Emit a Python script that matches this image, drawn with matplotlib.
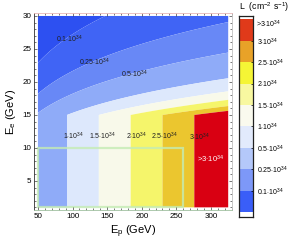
import numpy as np
import matplotlib
matplotlib.use("Agg")
import matplotlib.pyplot as plt
from matplotlib.patches import Rectangle

plt.rcParams["font.family"] = ["Liberation Sans", "DejaVu Sans"]
plt.rcParams["mathtext.fontset"] = "custom"
plt.rcParams["mathtext.rm"] = "Liberation Sans"
plt.rcParams["mathtext.it"] = "Liberation Sans:italic"

# luminosity levels (10^34 cm^-2 s^-1) and colours
levels = [0, 0.1, 0.25, 0.5, 1.0, 1.5, 2.0, 2.5, 3.0, 10.0]
plot_colors = ["#2d50f1", "#4064f5", "#6888f6", "#8fabf8", "#dde8fc",
               "#f8f9ea", "#f5f56b", "#ebc62f", "#d90012"]
bar_colors = ["#3a5ef8", "#7d98f8", "#b4c8fa", "#e2eafc", "#fafaee",
              "#f8f8a0", "#f5f535", "#e8a228", "#e03a1a"]
bar_labels = ["0.1", "0.25", "0.5", "1", "1.5", "2", "2.5", "3"]

# luminosity model
ep_per_unit = 92.0   # GeV of Ep per 10^34 at low Ee
ee_knee = 15.0       # GeV, above it L falls like Ee^-4
ee_power = 4.0

ep_range = (50, 325)
ee_range = (1, 30)

# contour labels: text, Ep, Ee
contour_labels = [
    ("0.1", 96, 26.5), ("0.25", 132, 23.0), ("0.5", 189, 21.2),
    ("1", 101, 11.7), ("1.5", 143, 11.7), ("2", 193, 11.7),
    ("2.5", 233, 11.7), ("3", 283, 11.6),
]

# green box (Ep, Ee)
box_ep = (50, 260)
box_ee = (1, 10)

ep = np.linspace(ep_range[0], ep_range[1], 551)
ee = np.linspace(ee_range[0], ee_range[1], 581)
EP, EE = np.meshgrid(ep, ee)
L = EP / ep_per_unit * np.minimum(1.0, (ee_knee / EE) ** ee_power)

fig = plt.figure(figsize=(2.91, 2.40), dpi=100)
ax = fig.add_axes([34 / 291, 30 / 240, 198 / 291, 197 / 240])

ax.contourf(EP, EE, L, levels=levels, colors=plot_colors, antialiased=True)

ax.add_patch(Rectangle((box_ep[0], box_ee[0]), box_ep[1] - box_ep[0],
                       box_ee[1] - box_ee[0], fill=False,
                       edgecolor="#c4ecb4", lw=1.6, alpha=0.8))

for txt, x, y in contour_labels:
    ax.text(x, y, txt + r"$\cdot$10$^{34}$", fontsize=5, ha="center",
            va="center", color="#202020")
ax.text(300, 8.2, r">3$\cdot$10$^{34}$", fontsize=5.5, ha="center",
        va="center", color="white")

ax.set_xlim(44.3, 330.5)
ax.set_ylim(0.6, 30.45)
ax.set_xticks([50, 100, 150, 200, 250, 300])
ax.set_xticks(np.arange(50, 331, 10), minor=True)
ax.set_yticks([5, 10, 15, 20, 25, 30])
ax.set_yticks(np.arange(1, 31, 1), minor=True)
ax.tick_params(which="both", direction="in", top=True, right=True,
               labelsize=5.8, pad=2, width=0.5, color="#404040")
ax.tick_params(which="major", length=2.5)
ax.tick_params(which="minor", length=1.3)
ax.spines["left"].set_color("#303030")
ax.spines["bottom"].set_color("#a0c0a0")
ax.spines["top"].set_color("#e8b8b8")
ax.spines["right"].set_color("#c0c0c0")
for s in ax.spines.values():
    s.set_linewidth(0.6)

ax.set_xlabel(r"E$_\mathrm{p}$ (GeV)", fontsize=8, labelpad=3)
ax.set_ylabel(r"E$_\mathrm{e}$ (GeV)", fontsize=8, labelpad=3)

# colour legend
cax = fig.add_axes([239 / 291, 23 / 240, 14 / 291, 201 / 240])
for i, c in enumerate(bar_colors):
    cax.axhspan(i, i + 1, color=c, lw=0)
cax.set_ylim(-0.23, 9.15)
cax.set_xlim(0, 1)
cax.set_xticks([])
cax.set_yticks(range(1, 9))
cax.set_yticklabels([t + r"$\cdot$10$^{34}$" for t in bar_labels])
cax.yaxis.tick_right()
cax.tick_params(axis="y", direction="in", length=1.5, width=0.5,
                labelsize=5, pad=3)
cax.text(1.25, 8.75, r">3$\cdot$10$^{34}$", fontsize=5, va="center",
         transform=cax.transData)
for s in cax.spines.values():
    s.set_linewidth(0.9)
    s.set_color("#202020")

fig.text(239 / 291, 1 - 7 / 240, r"L  (cm$^{-2}$ s$^{-1}$)", fontsize=6.3,
         va="center", ha="left")

fig.savefig("out.png", dpi=100)
